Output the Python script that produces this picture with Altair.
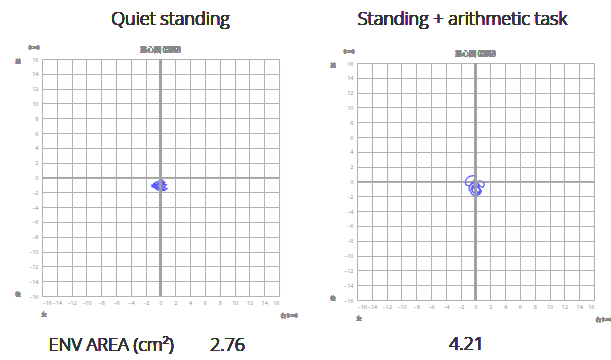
import altair as alt
import pandas as pd

# ---- data ----
ticks = list(range(-16, 17, 2))

left_title = "Quiet standing"
right_title = "Standing + arithmetic task"
sub_title = "重心図 (閉眼)"
area_label = "ENV AREA (cm²)"
left_area = "2.76"
right_area = "4.21"

left_x = [-0.3, -0.6, -0.9, -0.5, -1.1, -0.7, -0.2, 0.3, 0.8, 0.4, 0.9, 0.5, 0.1, -0.4, -0.8,
          -1.2, -0.9, -0.3, 0.2, 0.6, 0.2, -0.2, -0.6, -0.3, 0.1, 0.5, 0.3, -0.1, -0.5, -0.9,
          -0.6, -0.2, 0.3, 0.7, 0.4, 0.0, -0.4, -0.7, -0.3, 0.0, 0.4, 0.1, -0.3]
left_y = [-0.9, -0.6, -0.8, -1.1, -1.0, -1.4, -1.2, -0.9, -1.0, -1.3, -1.5, -1.8, -1.5, -1.7, -1.4,
          -1.2, -0.9, -0.5, -0.3, -0.7, -1.0, -0.7, -1.0, -1.5, -1.9, -1.6, -1.2, -0.8, -1.1, -0.8,
          -1.3, -1.6, -1.4, -1.1, -0.7, -0.5, -0.9, -1.2, -1.5, -1.2, -1.0, -0.6, -0.8]

right_x = [0.2, -0.3, -0.8, -1.2, -1.4, -1.3, -0.9, -0.4, 0.1, 0.6, 1.0, 1.2, 1.0, 0.6, 0.3,
           0.5, 0.8, 0.6, 0.2, -0.2, -0.5, -0.3, 0.0, 0.4, 0.7, 0.5, 0.1, -0.3, -0.6, -0.4,
           0.0, 0.3, 0.6, 0.4, 0.0, -0.2, 0.1, 0.5, 0.8, 0.4, -0.1, -0.5, -0.9, -0.6, -0.2]
right_y = [0.6, 0.8, 0.7, 0.4, 0.0, -0.4, -0.6, -0.3, 0.0, 0.1, 0.0, -0.4, -0.8, -0.6, -0.2,
           -0.9, -1.3, -1.7, -1.9, -1.6, -1.2, -0.8, -0.5, -0.9, -1.2, -1.6, -1.8, -1.4, -1.0, -0.6,
           -0.4, -0.7, -1.1, -1.5, -1.3, -0.9, -0.6, -0.8, -1.3, -1.7, -2.0, -1.7, -1.0, -0.3, 0.2]

FONT = "Open Sans"
JFONT = "Noto Sans CJK JP"
GRID = "#b3b3b3"
FRAME = "#8a8a8a"
TICKC = "#8a8a8a"


def panel(xs, ys, big_title, big_dx, big_dy, area_texts, area_dy):
    df = pd.DataFrame({"x": xs, "y": ys, "i": range(len(xs))})
    sx = alt.Scale(domain=[-16, 16], nice=False, zero=False)
    sy = alt.Scale(domain=[-16, 16], nice=False, zero=False)
    common = dict(title=None, values=ticks, grid=True, gridColor=GRID, gridWidth=1.1,
                  tickSize=0, domain=False, labelFontSize=5.5, labelColor=TICKC,
                  labelPadding=4, labelFont=FONT, labelOverlap=False, tickCount=17)
    line = alt.Chart(df).mark_line(color="#3c3cff", strokeWidth=1.2, opacity=0.85).encode(
        x=alt.X("x:Q", scale=sx, axis=alt.Axis(**common)),
        y=alt.Y("y:Q", scale=sy, axis=alt.Axis(**common)),
        order="i:Q",
    )
    zero_h = alt.Chart(df).mark_rule(color="#a0a0a0", strokeWidth=1.2).encode(y=alt.datum(0))
    zero_v = alt.Chart(df).mark_rule(color="#a0a0a0", strokeWidth=1.2).encode(x=alt.datum(0))

    def txt(text, xd, yd, dx, dy, size=6, color=TICKC, align="center", font=FONT, weight=400):
        return alt.Chart(df).mark_text(
            text=text, dx=dx, dy=dy, fontSize=size, color=color, font=font, align=align,
            baseline="middle", fontWeight=weight,
        ).encode(x=alt.datum(xd), y=alt.datum(yd))

    layers = [line, zero_h, zero_v,
              txt("(cm)", -16, 16, -8, -12, size=5),
              txt("前", -16, 16, -24, 2, size=5, font=JFONT),
              txt("後", -16, -16, -24, -2, size=5, font=JFONT),
              txt("左", -16, -16, 2, 18, size=5, font=JFONT),
              txt("右 (cm)", 16, -16, 10, 19, size=5, font=JFONT),
              txt(sub_title, 0, 16, 0, -9, size=7, color="#888888", font=JFONT, weight=300),
              txt(big_title, 0, 16, big_dx, big_dy, size=18, color="#333333", weight=300),
              ]
    for t, dx, al in area_texts:
        layers.append(txt(t, 0, -16, dx, area_dy, size=18, color="#333333", align=al, weight=300))
    return alt.layer(*layers).properties(width=237, height=237)


left = panel(left_x, left_y, left_title, 10, -39,
             [(area_label, -112, "left"), (left_area, 67, "center")], 50)
right = panel(right_x, right_y, right_title, -13, -43,
              [(right_area, -9, "center")], 45)

spacer = alt.Chart(pd.DataFrame({"a": [0]})).mark_point(opacity=0).properties(
    width=237, height=4, view=alt.ViewBackground(strokeOpacity=0, stroke=None)
)

right_col = alt.vconcat(spacer, right, spacing=0, bounds="flush")

chart = alt.hconcat(left, right_col, spacing=78, bounds="flush").properties(
    autosize=alt.AutoSizeParams(type="none"),
    padding={"left": 42, "top": 59, "right": 569, "bottom": 301},
).configure_view(stroke=FRAME, strokeWidth=1.6).configure(background="white")

chart.save("out.html", embed_options={"renderer": "svg", "actions": False})
